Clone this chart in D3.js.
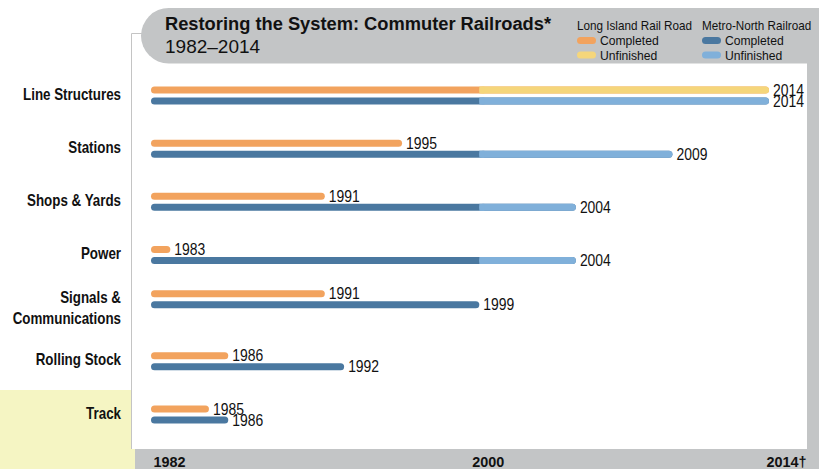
<!DOCTYPE html>
<html><head><meta charset="utf-8">
<script src="https://cdn.jsdelivr.net/npm/d3@7"></script>
<style>body{margin:0;background:#fff}svg{display:block}</style>
</head><body>
<svg id="chart" width="819" height="469"></svg>
<script>
// ---- data ----
const categories = ["Line Structures", "Stations", "Shops & Yards", "Power", "Signals &\nCommunications", "Rolling Stock", "Track"];
const lirrEnd = [2014, 1995, 1991, 1983, 1991, 1986, 1985];
const mnrEnd  = [2014, 2009, 2004, 2004, 1999, 1992, 1986];
const startYear = 1982;
const completedThrough = 1999;
const axisTicks = [1982, 2000, 2014];
const axisTickLabels = ["1982", "2000", "2014†"];
const seriesNames = ["Long Island Rail Road", "Metro-North Railroad"];
const statusNames = ["Completed", "Unfinished"];
const titleText = "Restoring the System: Commuter Railroads*";
const subtitleText = "1982–2014";

// ---- style ----
const colors = [
  {done: "#f2a35e", todo: "#f5d67b"},
  {done: "#4a78a0", todo: "#80b0da"}
];
const grey = "#c3c5c6";
const font = "'Liberation Sans', Arial, sans-serif";

const svg = d3.select("#chart");

// condensed text helper (horizontal squeeze of Liberation Sans)
function ctext(parent, x, y, str, size, opts = {}) {
  const g = parent.append("g").attr("transform", `translate(${x},${y}) scale(${opts.sx || 0.85},1)`);
  const t = g.append("text").attr("x", 0).attr("y", 0)
    .attr("font-family", font).attr("font-size", size)
    .attr("font-weight", opts.bold ? "bold" : "normal")
    .attr("text-anchor", opts.anchor || "start").attr("fill", "#111").text(str);
  return t;
}

// background panels
svg.append("rect").attr("x", 0).attr("y", 390).attr("width", 135).attr("height", 79).attr("fill", "#f5f5c3");
svg.append("rect").attr("x", 131).attr("y", 33).attr("width", 676).attr("height", 416).attr("fill", "#fff");
svg.append("path").attr("d", "M131.5,449 V33.5 H150").attr("fill", "none").attr("stroke", "#c4c4c4").attr("stroke-width", 1);
svg.append("rect").attr("x", 807).attr("y", 60).attr("width", 12).attr("height", 409).attr("fill", grey);
svg.append("rect").attr("x", 135).attr("y", 449).attr("width", 684).attr("height", 20).attr("fill", grey);
const hTop = 8, hBot = 63.5, r = (hBot - hTop) / 2;
svg.append("path")
  .attr("d", `M${141 + r},${hTop} H819 V${hBot} H${141 + r} A${r},${r} 0 0 1 ${141 + r},${hTop} Z`)
  .attr("fill", grey);

// title
svg.append("text").attr("x", 165).attr("y", 30).attr("font-family", font).attr("font-weight", "bold")
  .attr("font-size", 18.3).attr("fill", "#111").text(titleText);
svg.append("text").attr("x", 165).attr("y", 53).attr("font-family", font)
  .attr("font-size", 19).attr("fill", "#111").text(subtitleText);

// legend
const legendX = [577, 702];
seriesNames.forEach((name, i) => {
  const g = svg.append("g").attr("transform", `translate(${legendX[i]},0)`);
  ctext(g, 0, 29.5, name, 13, {sx: 0.9});
  statusNames.forEach((st, j) => {
    const cy = 40.5 + j * 14.5;
    g.append("rect").attr("x", 0).attr("y", cy - 3.5).attr("width", 19).attr("height", 7).attr("rx", 3.5)
      .attr("fill", j === 0 ? colors[i].done : colors[i].todo);
    ctext(g, 23, cy + 4.5, st, 13.5, {sx: 0.9});
  });
});

// scales
const x = d3.scaleLinear().domain([startYear, 2014]).range([151, 769]);
const y = d3.scalePoint().domain(categories).range([90, 409]);
const rowY = c => y(c) - (c.includes("\n") ? 9 : 0);
const barH = 7, seriesGap = 11;

// row labels
categories.forEach(c => {
  c.split("\n").forEach((ln, k) => {
    ctext(svg, 121, rowY(c) + 9.5 + k * 20.6, ln, 16.5, {bold: true, anchor: "end", sx: 0.81});
  });
});

// bars
const series = [lirrEnd, mnrEnd];
series.forEach((vals, si) => {
  const rows = categories.map((c, i) => ({c, end: vals[i], cy: rowY(c) + si * seriesGap}));
  const g = svg.append("g");
  g.selectAll("rect.done").data(rows).join("rect").attr("class", "done")
    .attr("x", x(startYear)).attr("y", d => d.cy - barH / 2)
    .attr("width", d => x(d.end) - x(startYear)).attr("height", barH)
    .attr("rx", barH / 2).attr("fill", colors[si].done);
  const unfinished = rows.filter(d => d.end > completedThrough);
  g.selectAll("rect.todo").data(unfinished).join("rect").attr("class", "todo")
    .attr("x", d => x(completedThrough)).attr("y", d => d.cy - barH / 2)
    .attr("width", d => x(d.end) - x(completedThrough)).attr("height", barH)
    .attr("rx", barH / 2).attr("fill", colors[si].todo);
  g.selectAll("rect.sq").data(unfinished).join("rect").attr("class", "sq")
    .attr("x", d => x(completedThrough)).attr("y", d => d.cy - barH / 2)
    .attr("width", 5).attr("height", barH).attr("fill", colors[si].todo);
  rows.forEach(d => ctext(g, x(d.end) + 4, d.cy + 5.5, String(d.end), 16, {sx: 0.87}));
});

// axis
const tickDx = [2, -27, -3];
const axis = d3.axisBottom(x).tickValues(axisTicks).tickFormat((d, i) => axisTickLabels[i]).tickSize(0);
const ag = svg.append("g").attr("transform", "translate(0,449)").call(axis);
ag.select(".domain").remove();
ag.selectAll("text").attr("y", 0).attr("dy", 0).attr("text-anchor", "start")
  .attr("transform", (d, i) => `translate(${tickDx[i]},18) scale(0.93,1)`)
  .attr("font-family", font).attr("font-weight", "bold").attr("font-size", 15.5).attr("fill", "#111");
</script>
</body></html>
